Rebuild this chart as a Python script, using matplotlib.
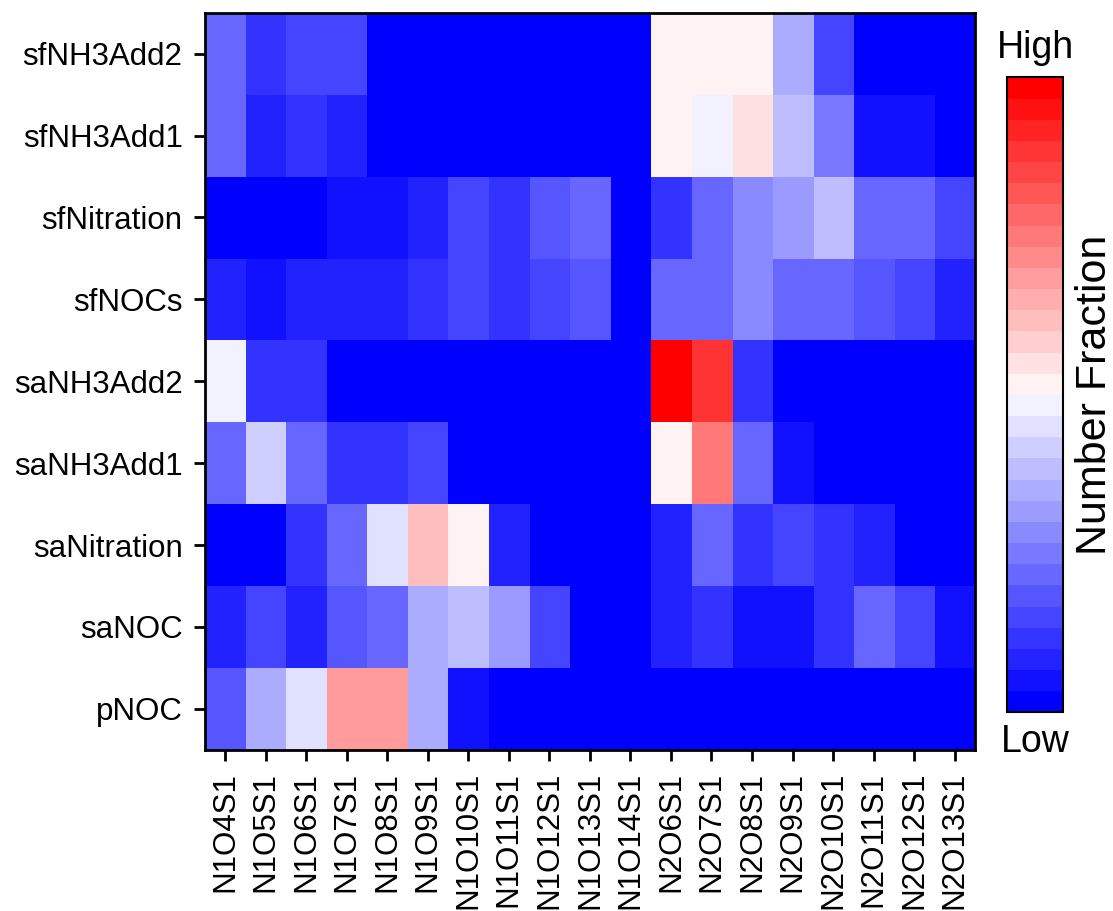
import numpy as np
import matplotlib.pyplot as plt
from matplotlib.colors import ListedColormap, BoundaryNorm

plt.rcParams['font.family'] = ['Liberation Sans', 'DejaVu Sans']

# ---- data: colour bin (0 = lowest, 29 = highest) ----
rows = ['sfNH3Add2', 'sfNH3Add1', 'sfNitration', 'sfNOCs', 'saNH3Add2',
        'saNH3Add1', 'saNitration', 'saNOC', 'pNOC']
cols = ['N1O4S1', 'N1O5S1', 'N1O6S1', 'N1O7S1', 'N1O8S1', 'N1O9S1', 'N1O10S1',
        'N1O11S1', 'N1O12S1', 'N1O13S1', 'N1O14S1', 'N2O6S1', 'N2O7S1',
        'N2O8S1', 'N2O9S1', 'N2O10S1', 'N2O11S1', 'N2O12S1', 'N2O13S1']

sfNH3Add2   = [6, 3, 4, 4, 0, 0, 0, 0, 0, 0, 0, 15, 15, 15, 10, 4, 0, 0, 0]
sfNH3Add1   = [6, 2, 3, 2, 0, 0, 0, 0, 0, 0, 0, 15, 14, 16, 11, 7, 1, 1, 0]
sfNitration = [0, 0, 0, 1, 1, 2, 4, 3, 5, 6, 0, 3, 6, 8, 9, 11, 6, 6, 4]
sfNOCs      = [2, 1, 2, 2, 2, 3, 4, 3, 4, 5, 0, 6, 6, 8, 6, 6, 5, 4, 2]
saNH3Add2   = [14, 3, 3, 0, 0, 0, 0, 0, 0, 0, 0, 29, 26, 3, 0, 0, 0, 0, 0]
saNH3Add1   = [6, 12, 6, 3, 3, 4, 0, 0, 0, 0, 0, 15, 22, 6, 1, 0, 0, 0, 0]
saNitration = [0, 0, 3, 6, 13, 18, 15, 2, 0, 0, 0, 2, 6, 3, 4, 3, 2, 0, 0]
saNOC       = [2, 4, 2, 5, 6, 10, 11, 9, 4, 0, 0, 2, 3, 1, 1, 3, 6, 4, 1]
pNOC        = [5, 10, 13, 20, 20, 10, 1, 0, 0, 0, 0, 0, 0, 0, 0, 0, 0, 0, 0]

levels = np.array([sfNH3Add2, sfNH3Add1, sfNitration, sfNOCs, saNH3Add2,
                   saNH3Add1, saNitration, saNOC, pNOC])

# ---- discrete blue-white-red colormap, 30 steps ----
n_half = 15
step = 242 / 14 / 255
blues = [(i * step, i * step, 1.0) for i in range(n_half)]
reds = [(1.0, j * step, j * step) for j in range(n_half - 1, -1, -1)]
cmap = ListedColormap(blues + reds)
norm = BoundaryNorm(np.arange(-0.5, 30.5, 1), cmap.N)

fig = plt.figure(figsize=(11.13, 9.11), dpi=100)
ax = fig.add_axes([0.184, 0.177, 0.692, 0.809])

im = ax.imshow(levels, cmap=cmap, norm=norm, aspect='auto',
               interpolation='nearest')

ax.set_xticks(np.arange(len(cols)))
ax.set_xticklabels(cols, rotation=90, fontsize=22.5)
ax.set_yticks(np.arange(len(rows)))
ax.set_yticklabels(rows, fontsize=22.5)
ax.tick_params(direction='out', length=8, width=2)
ax.tick_params(axis='y', pad=8)
ax.tick_params(axis='x', pad=8)
for s in ax.spines.values():
    s.set_linewidth(2)

# ---- colorbar ----
cax = fig.add_axes([0.905, 0.218, 0.050, 0.697])
cb = fig.colorbar(im, cax=cax, ticks=[])
cb.outline.set_linewidth(1.5)
cb.ax.minorticks_off()
cax.text(0.5, 1.046, 'High', transform=cax.transAxes, ha='center',
         va='center', fontsize=27)
cax.text(0.5, -0.046, 'Low', transform=cax.transAxes, ha='center',
         va='center', fontsize=27)
cax.text(1.57, 0.5, 'Number Fraction', transform=cax.transAxes, ha='center',
         va='center', rotation=90, fontsize=31)

fig.savefig('out.png', dpi=100)
